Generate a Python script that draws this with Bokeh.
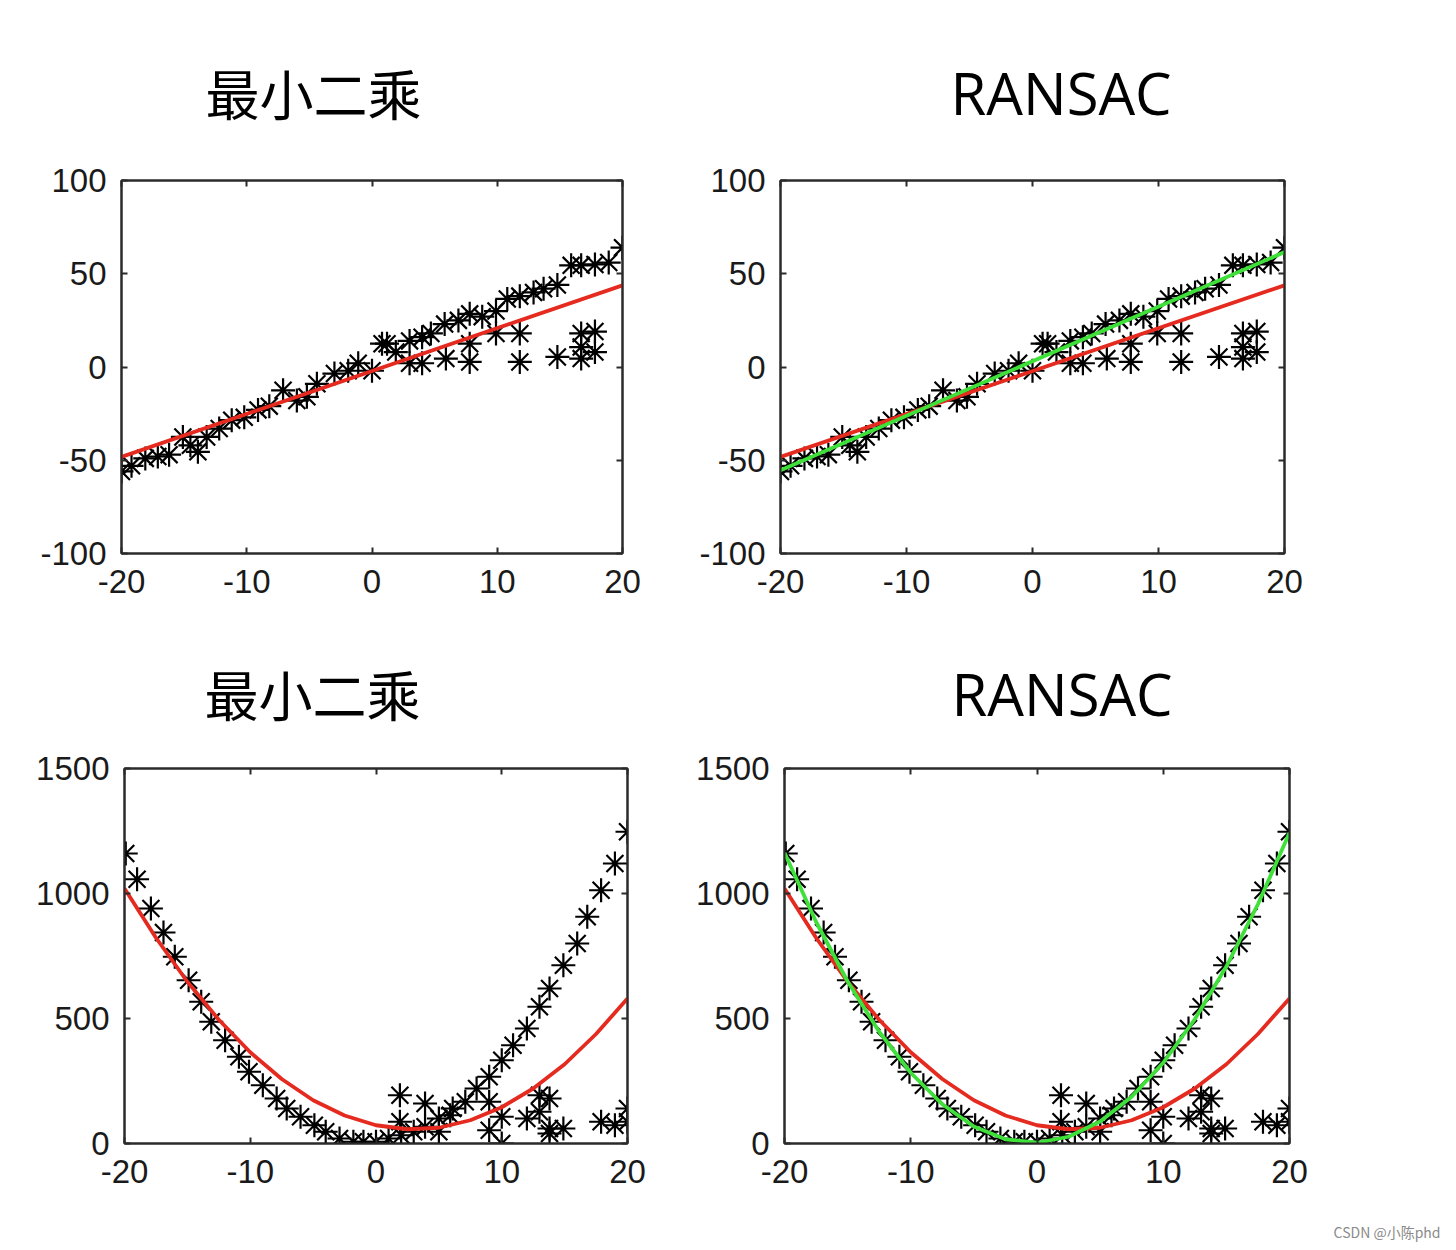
from bokeh.plotting import figure
from bokeh.models import LinearAxis, FixedTicker, Range1d, PrintfTickFormatter
from bokeh.layouts import column, row
from bokeh.embed import file_html
from bokeh.resources import INLINE

# ---------------- data ----------------
# Linear data set: inlier points
lin_x = [-20, -19.2, -18.1, -17.1, -16.2, -15.1, -14.5, -13.9, -13.2, -12.2, -11.2, -10.2,
         -9.1, -8.2, -7.1, -6.0, -5.2, -4.4, -3.0, -1.9, -1.1, 0.0, 0.8, 1.9, 3.0, 4.0,
         4.7, 5.8, 6.9, 7.8, 8.8, 9.9, 10.8, 11.8, 12.9, 13.7, 14.8, 15.9, 16.7, 17.8,
         18.9, 20.0]
lin_y = [-56, -53, -49, -48, -47, -37.5, -42, -45.5, -37.5, -33, -28.5, -27,
         -23, -21, -12.5, -18, -16, -9, -3.5, -2, 2, -2, 12.5, 8, 14, 16,
         18, 23, 25, 28.5, 27, 30, 36.5, 38, 40, 42, 44, 54.5, 54.5, 55,
         56, 64]
# Linear data set: outlier points
lin_out_x = [1.2, 3.0, 4.0, 5.9, 7.8, 7.8, 9.9, 11.8, 11.8, 14.8, 16.7, 16.7, 16.7, 17.8, 17.8]
lin_out_y = [12.5, 2, 2, 4.5, 2.7, 12.5, 18, 18, 2.7, 5.4, 4.5, 18, 10.7, 19, 8]
# fitted lines (values read at the x ends)
line_fit_x = [-20, 20]
line_lsq_y = [-48.2, 43.8]
line_ransac_y = [-55.4, 61.6]

# Quadratic data set: inlier points
quad_x = [-19.9, -19, -17.9, -16.9, -16, -14.9, -13.9, -13.1, -12, -10.9, -10.1, -9, -7.9,
          -7.1, -6, -4.9, -4, -2.9, -1.8, -1, 0, 1, 2, 3, 3.9, 5, 6.1, 7.1, 8, 9, 10,
          10.9, 12, 13, 13.8, 14.9, 16, 16.8, 17.9, 19, 20]
quad_y = [1160, 1057, 940, 844, 747, 653, 567, 487, 413, 347, 287, 233, 180,
          140, 107, 73, 47, 20, 7, 7, 7, 20, 33, 47, 67, 100, 140, 167, 220, 267, 333,
          393, 460, 547, 620, 713, 800, 907, 1013, 1120, 1247]
# Quadratic data set: outlier points
quad_out_x = [1.9, 1.9, 3.9, 5.0, 5.9, 9, 9, 10, 10, 12, 13, 13, 13.8, 13.8, 13.8, 14.9,
              17.9, 19, 20, 20]
quad_out_y = [193, 87, 160, 47, 113, 167, 53, 107, 0, 100, 193, 127, 180, 60, 40, 60,
              87, 73, 140, 87]
# fitted curves
curve_x = [-20, -17.5, -15, -12.5, -10, -7.5, -5, -2.5, 0, 2.5, 5, 7.5, 10, 12.5, 15, 17.5, 20]
curve_lsq_y = [1020, 823, 647, 495, 365, 258, 173, 112, 73, 57, 63, 93, 145, 220, 317, 438, 580]
curve_ransac_y = [1163, 887, 648, 447, 283, 157, 68, 17, 3, 27, 88, 187, 323, 497, 708, 957, 1243]

titles = ["最小二乘", "RANSAC"]
watermark = "CSDN @小陈phd"
x_ticks = [-20, -10, 0, 10, 20]
y_ticks_lin = [-100, -50, 0, 50, 100]
y_ticks_quad = [0, 500, 1000, 1500]

# ---------------- styling ----------------
TICK_FONT = "Liberation Sans"
TICK_SIZE = "33px"
RED = "#e52a1f"
GREEN = "#3fe03a"
EDGE = "#2b2b2b"


def panel(title, title_font, title_size, title_offset, title_standoff, y0, y1, yticks,
          total_w, ml, fw, mt, fh, mb):
    p = figure(width=total_w, height=mt + fh + mb,
               x_range=Range1d(-20, 20), y_range=Range1d(y0, y1),
               output_backend="svg", toolbar_location=None,
               min_border_left=ml, min_border_right=total_w - ml - fw,
               min_border_top=mt, min_border_bottom=mb,
               background_fill_color="white", border_fill_color="white")
    p.title.text = title
    p.title.text_font = title_font
    p.title.text_font_size = title_size
    p.title.text_font_style = "normal"
    p.title.text_color = "black"
    p.title.align = "left"
    p.title.offset = title_offset
    p.title.standoff = title_standoff
    p.xgrid.visible = False
    p.ygrid.visible = False
    p.outline_line_color = EDGE
    p.outline_line_width = 2

    for ax, ticks in ((p.xaxis[0], x_ticks), (p.yaxis[0], yticks)):
        ax.ticker = FixedTicker(ticks=ticks)
        ax.formatter = PrintfTickFormatter(format="%d")
        ax.major_tick_in = 6
        ax.major_tick_out = 0
        ax.minor_tick_line_color = None
        ax.axis_line_color = EDGE
        ax.axis_line_width = 2
        ax.major_tick_line_color = EDGE
        ax.major_tick_line_width = 2
        ax.major_label_text_font = TICK_FONT
        ax.major_label_text_font_size = TICK_SIZE
        ax.major_label_text_color = "#1a1a1a"
    p.xaxis[0].major_label_standoff = 16
    p.yaxis[0].major_label_standoff = 15

    top = LinearAxis(ticker=FixedTicker(ticks=x_ticks))
    right = LinearAxis(ticker=FixedTicker(ticks=yticks))
    for ax in (top, right):
        ax.major_tick_in = 6
        ax.major_tick_out = 0
        ax.minor_tick_line_color = None
        ax.axis_line_color = EDGE
        ax.axis_line_width = 2
        ax.major_tick_line_color = EDGE
        ax.major_tick_line_width = 2
        ax.major_label_text_font_size = "1px"
        ax.major_label_text_color = None
        ax.major_label_standoff = 0
    p.add_layout(top, "above")
    p.add_layout(right, "right")
    return p


def points(p, xs, ys):
    p.scatter(xs, ys, marker="asterisk", size=24, line_color="black", line_width=2.2)


# top row (page y 0..613), frames 180..553
p1 = panel(titles[0], "Noto Sans CJK SC", "54px", 84, 97, -100, 100, y_ticks_lin,
           688, 121, 501, 180, 373, 60)
points(p1, lin_x, lin_y)
points(p1, lin_out_x, lin_out_y)
p1.line(line_fit_x, line_lsq_y, line_color=RED, line_width=3.8)

p2 = panel(titles[1], "Open Sans", "58px", 170, 97, -100, 100, y_ticks_lin,
           760, 92, 504, 180, 373, 60)
points(p2, lin_x, lin_y)
points(p2, lin_out_x, lin_out_y)
p2.line(line_fit_x, line_lsq_y, line_color=RED, line_width=3.8)
p2.line(line_fit_x, line_ransac_y, line_color=GREEN, line_width=3.8)

# bottom row (page y 613..1203), frames 768..1143
p3 = panel(titles[0], "Noto Sans CJK SC", "54px", 80, 72, 0, 1500, y_ticks_quad,
           688, 124, 503, 155, 375, 60)
points(p3, quad_x, quad_y)
points(p3, quad_out_x, quad_out_y)
p3.line(curve_x, curve_lsq_y, line_color=RED, line_width=3.8)

p4 = panel(titles[1], "Open Sans", "58px", 167, 72, 0, 1500, y_ticks_quad,
           760, 96, 505, 155, 375, 60)
points(p4, quad_x, quad_y)
points(p4, quad_out_x, quad_out_y)
p4.line(curve_x, curve_lsq_y, line_color=RED, line_width=3.8)
p4.line(curve_x, curve_ransac_y, line_color=GREEN, line_width=3.8)

# watermark strip (page y 1203..1243)
wm = figure(width=1448, height=40, x_axis_type=None, y_axis_type=None,
            output_backend="svg", toolbar_location=None,
            min_border_left=0, min_border_right=8, min_border_top=38, min_border_bottom=0,
            outline_line_color=None, background_fill_color="white",
            border_fill_color="white")
wm.title.text = watermark
wm.title.text_font = "Noto Sans CJK SC"
wm.title.text_font_size = "14px"
wm.title.text_font_style = "normal"
wm.title.text_color = "#8a8a8a"
wm.title.align = "right"
wm.title.offset = 0
wm.title.standoff = 0
wm.xgrid.visible = False
wm.ygrid.visible = False

layout = column(row(p1, p2, spacing=0), row(p3, p4, spacing=0), wm, spacing=0)

open("out.html", "w").write(file_html(layout, INLINE))
